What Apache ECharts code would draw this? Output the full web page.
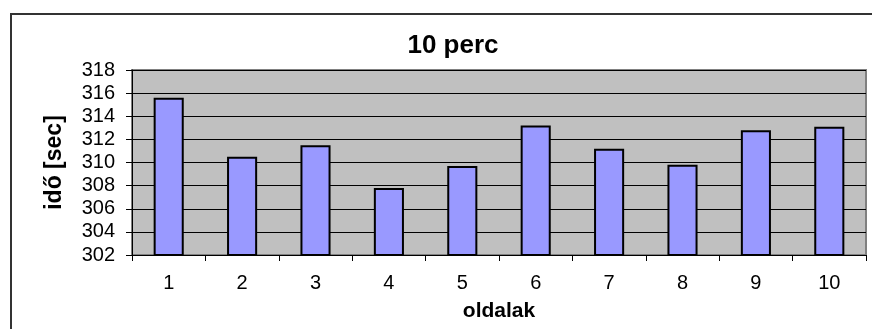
<!DOCTYPE html>
<html>
<head>
<meta charset="utf-8">
<script src="https://cdn.jsdelivr.net/npm/echarts@6/dist/echarts.min.js"></script>
<style>
  html, body { margin: 0; padding: 0; background: #fff; }
  #chart { width: 872px; height: 329px; }
</style>
</head>
<body>
<div id="chart"></div>
<script>
// Page counts and measured times
const categories = ['1', '2', '3', '4', '5', '6', '7', '8', '9', '10'];
const times = [315.6, 310.5, 311.5, 307.8, 309.7, 313.2, 311.2, 309.8, 312.8, 313.1];
const yTicks = { min: 302, max: 318, step: 2 };

const FONT = '"Liberation Sans", Arial, sans-serif';

const chart = echarts.init(document.getElementById('chart'), null, { renderer: 'canvas' });

chart.setOption({
  animation: false,
  backgroundColor: '#ffffff',
  title: {
    text: '10 perc',
    left: 448,
    top: 28,
    textAlign: 'center',
    textStyle: { fontFamily: FONT, fontSize: 26, fontWeight: 'bold', color: '#000' }
  },
  graphic: [{
    type: 'rect',
    silent: true,
    shape: { x: 11, y: 14, width: 1000, height: 500 },
    style: { fill: 'none', stroke: '#333', lineWidth: 2 }
  }],
  grid: {
    left: 132, top: 70, right: 6, bottom: 74,
    show: true,
    backgroundColor: '#C0C0C0',
    borderColor: '#808080',
    borderWidth: 2
  },
  xAxis: {
    type: 'category',
    data: categories,
    name: 'oldalak',
    nameLocation: 'middle',
    nameGap: 46,
    nameTextStyle: { fontFamily: FONT, fontSize: 21, fontWeight: 'bold', color: '#000' },
    axisLine: { show: true, lineStyle: { color: '#000', width: 1 } },
    axisTick: { show: true, interval: 0, length: 6, lineStyle: { color: '#000' } },
    axisLabel: { margin: 18, fontFamily: FONT, fontSize: 20, color: '#000' },
    splitLine: { show: false }
  },
  yAxis: {
    type: 'value',
    min: yTicks.min,
    max: yTicks.max,
    interval: yTicks.step,
    name: 'idő [sec]',
    nameLocation: 'middle',
    nameGap: 66,
    nameRotate: 90,
    nameTextStyle: { fontFamily: FONT, fontSize: 23, fontWeight: 'bold', color: '#000' },
    axisLine: { show: true, lineStyle: { color: '#000', width: 1 } },
    axisTick: { show: true, length: 6, lineStyle: { color: '#000' } },
    axisLabel: { margin: 17, fontFamily: FONT, fontSize: 20, color: '#000' },
    splitLine: { show: true, lineStyle: { color: '#000', width: 1 } }
  },
  series: [{
    type: 'bar',
    data: times,
    barWidth: '41%',
    itemStyle: { color: '#9999FF', borderColor: '#000', borderWidth: 2 }
  }]
});
</script>
</body>
</html>
